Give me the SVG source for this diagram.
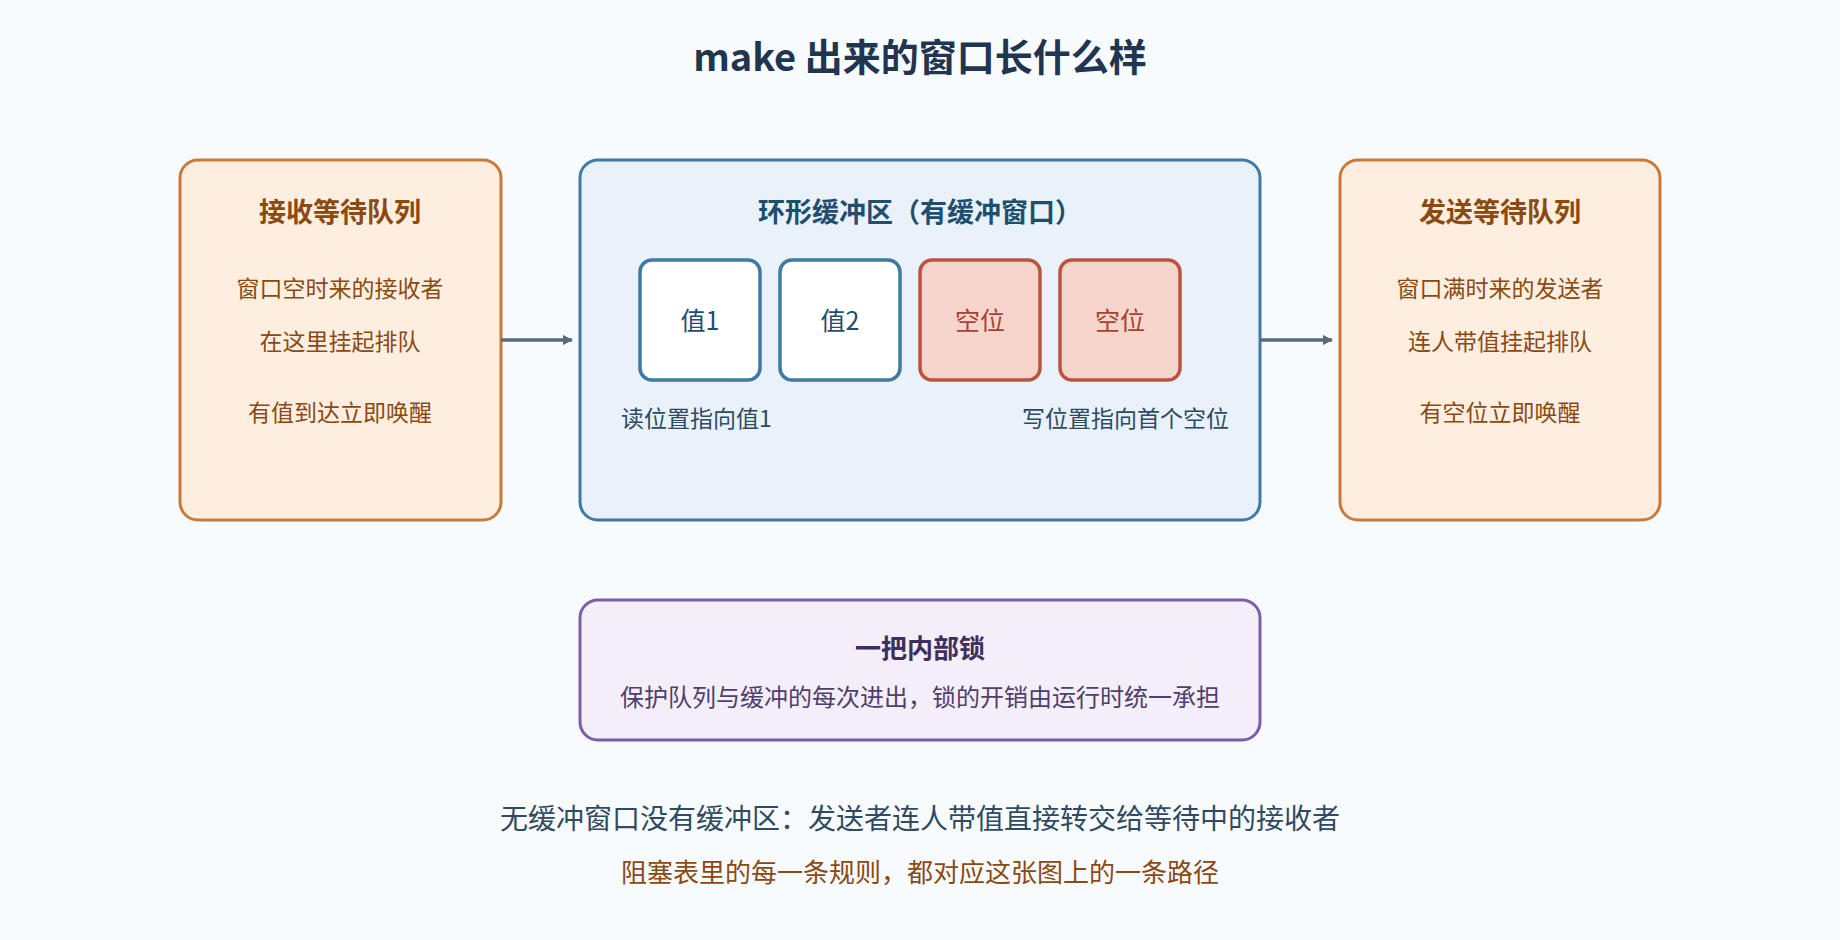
<svg xmlns="http://www.w3.org/2000/svg" width="1840" height="940" viewBox="0 0 1840 940">
<defs>
<marker id="ah" markerWidth="10" markerHeight="10" refX="9" refY="5" orient="auto" markerUnits="userSpaceOnUse"><path d="M0,0 L20,10 L0,20 Z" transform="scale(0.5)" fill="#5a6a7e"/></marker>
<style>
text{font-family:"Noto Sans CJK SC","Noto Sans",sans-serif;text-anchor:middle;dominant-baseline:middle}
.q{fill:#fdeedf;stroke:#c87a3a;stroke-width:3}
.qt{font-size:27px;font-weight:bold;fill:#8a4a12}
.qb{font-size:23px;fill:#8a4a12}
.cell{fill:#fff;stroke:#3e7aa3;stroke-width:3.5}
.emp{fill:#f7d5cc;stroke:#b9553e;stroke-width:3.5}
.conn{stroke:#5a6a7e;stroke-width:3.5;fill:none}
</style>
</defs>
<rect width="1840" height="940" fill="#f8fbfd"/>
<text x="920" y="61" font-size="38" font-weight="bold" fill="#1f3550">make 出来的窗口长什么样</text>
<g id="recvq">
<rect class="q" x="180" y="160" width="321" height="360" rx="18"/>
<text class="qt" x="340" y="215">接收等待队列</text>
<text class="qb" x="340" y="291">窗口空时来的接收者</text>
<text class="qb" x="340" y="344">在这里挂起排队</text>
<text class="qb" x="340" y="415">有值到达立即唤醒</text>
</g>
<g id="ring">
<rect x="580" y="160" width="680" height="360" rx="18" fill="#e9f1fa" stroke="#3e7aa3" stroke-width="3"/>
<text x="920" y="215" font-size="27" font-weight="bold" fill="#1f4e6e">环形缓冲区（有缓冲窗口）</text>
<g id="v1"><rect class="cell" x="640" y="260" width="120" height="120" rx="12"/><text x="700" y="323" font-size="25" fill="#1f4e6e">值1</text></g>
<g id="v2"><rect class="cell" x="780" y="260" width="120" height="120" rx="12"/><text x="840" y="323" font-size="25" fill="#1f4e6e">值2</text></g>
<g id="e1"><rect class="emp" x="920" y="260" width="120" height="120" rx="12"/><text x="980" y="323" font-size="25" fill="#a5432e">空位</text></g>
<g id="e2"><rect class="emp" x="1060" y="260" width="120" height="120" rx="12"/><text x="1120" y="323" font-size="25" fill="#a5432e">空位</text></g>
<text x="621" y="421" font-size="23" fill="#2f4a62" style="text-anchor:start">读位置指向值1</text>
<text x="1229" y="421" font-size="23" fill="#2f4a62" style="text-anchor:end">写位置指向首个空位</text>
</g>
<g id="sendq">
<rect class="q" x="1340" y="160" width="320" height="360" rx="18"/>
<text class="qt" x="1500" y="215">发送等待队列</text>
<text class="qb" x="1500" y="291">窗口满时来的发送者</text>
<text class="qb" x="1500" y="344">连人带值挂起排队</text>
<text class="qb" x="1500" y="415">有空位立即唤醒</text>
</g>
<g id="lock">
<rect x="580" y="600" width="680" height="140" rx="18" fill="#f3eef8" stroke="#7b5ea8" stroke-width="3"/>
<text x="920" y="651" font-size="26" font-weight="bold" fill="#3f2e5e">一把内部锁</text>
<text x="920" y="699" font-size="24" fill="#4f3e6e">保护队列与缓冲的每次进出，锁的开销由运行时统一承担</text>
</g>
<g id="connectors">
<line class="conn" x1="501" y1="340" x2="572" y2="340" marker-end="url(#ah)"/>
<line class="conn" x1="1260" y1="340" x2="1332" y2="340" marker-end="url(#ah)"/>
</g>
<text x="920" y="821" font-size="28" fill="#2f4a62">无缓冲窗口没有缓冲区：发送者连人带值直接转交给等待中的接收者</text>
<text x="920" y="875" font-size="26" fill="#8a4a12">阻塞表里的每一条规则，都对应这张图上的一条路径</text>
</svg>
